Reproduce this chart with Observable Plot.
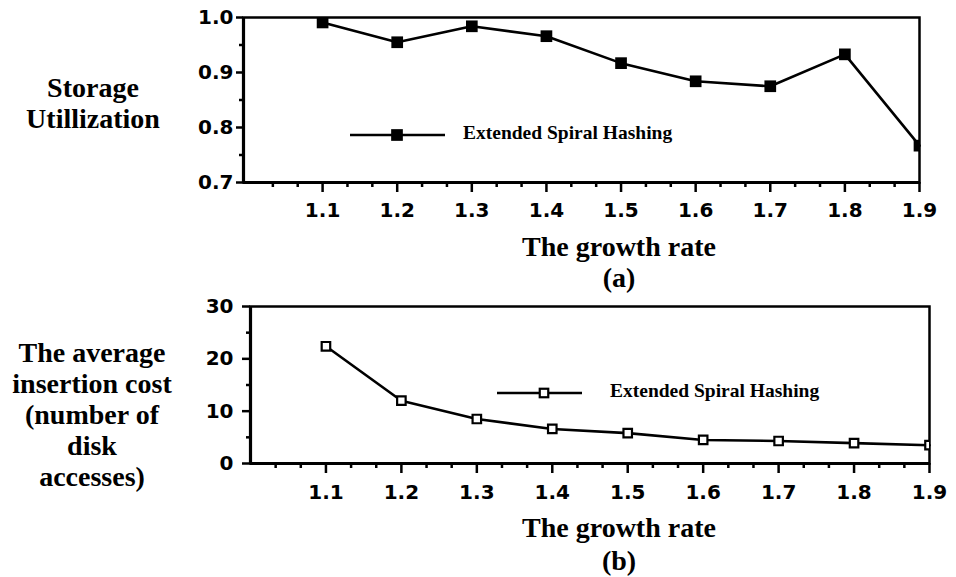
<!DOCTYPE html>
<html>
<head>
<meta charset="utf-8">
<script src="https://cdn.jsdelivr.net/npm/d3@7"></script>
<script src="https://cdn.jsdelivr.net/npm/@observablehq/plot@0.6"></script>
<style>
  html, body { margin: 0; padding: 0; background: white; }
  #wrap { position: relative; width: 956px; height: 577px; overflow: hidden; background: white; }
  .pl { position: absolute; left: 0; }
  .t { position: absolute; font-family: "Liberation Serif", "Times New Roman", serif; font-weight: bold; color: black; white-space: nowrap; }
</style>
</head>
<body>
<div id="wrap"></div>
<script>
// ---- data ----
const growthRates = [1.1, 1.2, 1.3, 1.4, 1.5, 1.6, 1.7, 1.8, 1.9];
const storageUtilization = [0.991, 0.955, 0.984, 0.966, 0.917, 0.884, 0.875, 0.933, 0.767];
const insertionCost = [22.4, 12.0, 8.5, 6.6, 5.8, 4.5, 4.3, 3.9, 3.5];
const xTickValues = [1.1, 1.2, 1.3, 1.4, 1.5, 1.6, 1.7, 1.8, 1.9];
const yTicksTop = [0.7, 0.8, 0.9, 1.0];
const yMinorTop = [0.75, 0.85, 0.95];
const yTicksBottom = [0, 10, 20, 30];
const yMinorBottom = [5, 15, 25];
const seriesName = "Extended Spiral Hashing";
const yTitleTop = ["Storage", "Utillization"];
const yTitleBottom = ["The average", "insertion cost", "(number of", "disk", "accesses)"];
const xTitle = "The growth rate";
const panelTags = ["(a)", "(b)"];

// minor x ticks: thirds between the labelled ones
const xMinor = d3.range(1, 28).filter(i => i % 3 !== 0).map(i => 1 + i / 30);

const topData = growthRates.map((g, i) => ({g, v: storageUtilization[i]}));
const botData = growthRates.map((g, i) => ({g, v: insertionCost[i]}));

const wrap = document.getElementById("wrap");
const axisStyle = {fontFamily: "DejaVu Sans", fontWeight: "bold", fontSize: "20px", color: "black", background: "white", overflow: "visible"};

function panel({data, xDomain, yDomain, yMajor, yMinor, yFmt, ml, mr, mt, mb, h, yTickSize, yPad, xPad, filled}) {
  return Plot.plot({
    width: 956, height: h,
    marginLeft: ml, marginRight: mr, marginTop: mt, marginBottom: mb,
    x: {domain: xDomain, axis: null},
    y: {domain: yDomain, axis: null},
    style: axisStyle,
    marks: [
      Plot.frame({stroke: "black", strokeWidth: 2.5}),
      Plot.axisX(xTickValues, {tickSize: 10, tickPadding: xPad, strokeWidth: 2.5, tickFormat: d3.format(".1f"), label: null}),
      Plot.axisX(xMinor, {tickSize: 5, strokeWidth: 2.5, text: null, label: null}),
      Plot.axisY(yMajor, {tickSize: yTickSize, tickPadding: yPad, strokeWidth: 2.5, tickFormat: yFmt, label: null}),
      Plot.axisY(yMinor, {tickSize: 4, strokeWidth: 2.5, text: null, label: null}),
      Plot.ruleY([yDomain[0]], {strokeWidth: 3.2}),
      Plot.ruleX([xDomain[0]], {strokeWidth: 3.2}),
      Plot.line(data, {x: "g", y: "v", stroke: "black", strokeWidth: 2.6}),
      Plot.dot(data, filled
        ? {x: "g", y: "v", symbol: "square", r: 6.6, fill: "black", stroke: "none", clip: true}
        : {x: "g", y: "v", symbol: "square", r: 4.8, fill: "white", stroke: "black", strokeWidth: 2.2, clip: true})
    ]
  });
}

const topPlot = panel({data: topData, xDomain: [0.994, 1.9], yDomain: [0.7, 1.0], yMajor: yTicksTop, yMinor: yMinorTop,
  yFmt: d3.format(".1f"), ml: 243, mr: 37, mt: 17, mb: 38, h: 220, yTickSize: 7, yPad: 3, xPad: 10, filled: true});
topPlot.classList.add("pl"); topPlot.style.top = "0px";
wrap.appendChild(topPlot);

const botPlot = panel({data: botData, xDomain: [1.0, 1.9], yDomain: [0, 30], yMajor: yTicksBottom, yMinor: yMinorBottom,
  yFmt: d3.format("d"), ml: 250, mr: 27, mt: 26, mb: 47, h: 230, yTickSize: 8, yPad: 9, xPad: 11, filled: false});
botPlot.classList.add("pl"); botPlot.style.top = "280px";
wrap.appendChild(botPlot);

// ---- text placement helpers (first baseline based) ----
function baseOffset(size, lh) { return (lh - 1.107 * size) / 2 + 0.891 * size; }
function block(lines, cx, firstBaseline, size, lh) {
  const d = document.createElement("div");
  d.className = "t";
  lines.forEach((s, i) => {
    if (i) d.appendChild(document.createElement("br"));
    d.appendChild(document.createTextNode(s));
  });
  d.style.fontSize = size + "px";
  d.style.lineHeight = lh + "px";
  d.style.left = (cx - 200) + "px";
  d.style.width = "400px";
  d.style.textAlign = "center";
  d.style.top = (firstBaseline - baseOffset(size, lh)) + "px";
  wrap.appendChild(d);
}
function leftText(text, x, baseline, size) {
  const lh = Math.round(size * 0.9);
  const d = document.createElement("div");
  d.className = "t";
  d.textContent = text;
  d.style.fontSize = size + "px";
  d.style.lineHeight = lh + "px";
  d.style.left = x + "px";
  d.style.top = (baseline - baseOffset(size, lh)) + "px";
  wrap.appendChild(d);
}

block(yTitleTop, 93, 97, 28, 31);
block(yTitleBottom, 92, 362, 28, 31);
block([xTitle, panelTags[0]], 619, 256, 28, 31.5);
block([xTitle, panelTags[1]], 619, 537, 28, 33);

// ---- legends ----
function legend(x1, x2, y, mx, filled, textX, textBaseline) {
  const ns = "http://www.w3.org/2000/svg";
  const s = document.createElementNS(ns, "svg");
  s.setAttribute("width", x2 - x1 + 20);
  s.setAttribute("height", 24);
  s.style.position = "absolute";
  s.style.left = (x1 - 10) + "px";
  s.style.top = (y - 12) + "px";
  const l = document.createElementNS(ns, "line");
  l.setAttribute("x1", 10); l.setAttribute("x2", x2 - x1 + 10);
  l.setAttribute("y1", 12); l.setAttribute("y2", 12);
  l.setAttribute("stroke", "black"); l.setAttribute("stroke-width", 2.6);
  s.appendChild(l);
  const r = document.createElementNS(ns, "rect");
  const side = filled ? 11.7 : 8.5;
  r.setAttribute("x", mx - x1 + 10 - side / 2); r.setAttribute("y", 12 - side / 2);
  r.setAttribute("width", side); r.setAttribute("height", side);
  r.setAttribute("fill", filled ? "black" : "white");
  r.setAttribute("stroke", filled ? "none" : "black");
  r.setAttribute("stroke-width", 2.2);
  s.appendChild(r);
  wrap.appendChild(s);
  leftText(seriesName, textX, textBaseline, 19.5);
}
legend(350, 445, 135, 397, true, 463, 140);
legend(497, 582, 393, 544, false, 610, 398);
</script>
</body>
</html>
